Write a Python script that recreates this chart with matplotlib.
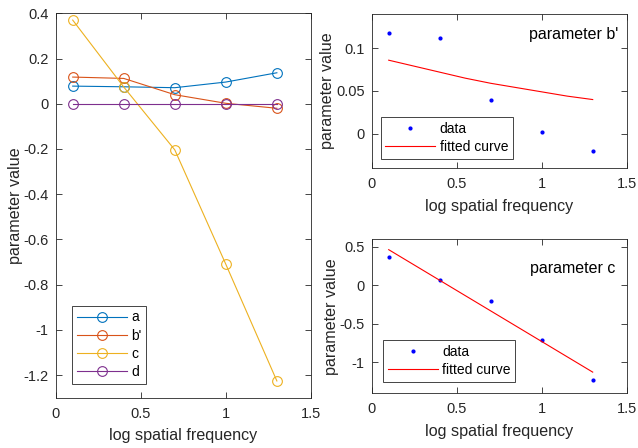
import matplotlib
matplotlib.use("Agg")
import matplotlib.pyplot as plt
from matplotlib.ticker import FuncFormatter

plt.rcParams['font.family'] = ['Liberation Sans', 'DejaVu Sans']
plt.rcParams['axes.unicode_minus'] = False

# data
freq = [0.1, 0.4, 0.7, 1.0, 1.3]
par_a = [0.078, 0.075, 0.071, 0.096, 0.137]
par_b = [0.118, 0.112, 0.040, 0.002, -0.020]
par_c = [0.370, 0.074, -0.204, -0.710, -1.226]
par_d = [0.0, 0.0, 0.0, 0.0, 0.0]

fit_b_x = [0.1, 0.25, 0.4, 0.55, 0.7, 0.85, 1.0, 1.15, 1.3]
fit_b_y = [0.086, 0.079, 0.072, 0.065, 0.059, 0.054, 0.049, 0.044, 0.040]
fit_c_x = [0.1, 1.3]
fit_c_y = [0.465, -1.125]

blue = '#0072BD'
orange = '#D95319'
yellow = '#EDB120'
purple = '#7E2F8E'
dark = '#262626'

fmt = FuncFormatter(lambda v, p: '%g' % round(v, 6))


def style(ax):
    ax.tick_params(direction='in', top=True, right=True, labelsize=10.5,
                   colors=dark, length=4, width=0.6, pad=5)
    ax.tick_params(axis='x', pad=6.5)
    for s in ax.spines.values():
        s.set_color(dark)
        s.set_linewidth(0.6)
    ax.xaxis.set_major_formatter(fmt)
    ax.yaxis.set_major_formatter(fmt)
    ax.set_xlim(0, 1.5)
    ax.set_xticks([0, 0.5, 1, 1.5])
    ax.set_xlabel('log spatial frequency', fontsize=11.6, color=dark, labelpad=5.5)
    ax.set_ylabel('parameter value', fontsize=11.6, color=dark, labelpad=0.5)


def add_legend(ax, anchor):
    leg = ax.legend(loc='lower left', bbox_to_anchor=anchor,
                    borderaxespad=0, fontsize=10, fancybox=False,
                    framealpha=1, handlelength=3.6, handletextpad=0.3,
                    labelspacing=0.3, borderpad=0.35, edgecolor=dark)
    leg.get_frame().set_linewidth(0.6)


fig = plt.figure(figsize=(6.38, 4.48), dpi=100)

# left: all parameters
ax1 = fig.add_axes([0.0873, 0.1123, 0.400, 0.858])
for vals, col, lab in [(par_a, blue, 'a'), (par_b, orange, "b'"),
                       (par_c, yellow, 'c'), (par_d, purple, 'd')]:
    ax1.plot(freq, vals, '-o', color=col, mfc='none', ms=7, lw=0.8,
             mew=0.8, label=lab)
ax1.set_ylim(-1.3, 0.4)
ax1.set_yticks([-1.2, -1, -0.8, -0.6, -0.4, -0.2, 0, 0.2, 0.4])
style(ax1)
add_legend(ax1, (0.064, 0.036))

# right top: parameter b'
ax2 = fig.add_axes([0.5826, 0.625, 0.3997, 0.3438])
ax2.plot(freq, par_b, '.', color='b', ms=4, label='data')
ax2.plot(fit_b_x, fit_b_y, '-', color='r', lw=0.8, label='fitted curve')
ax2.set_ylim(-0.04, 0.14)
ax2.set_yticks([0, 0.05, 0.1])
style(ax2)
ax2.text(0.965, 0.87, "parameter b'", transform=ax2.transAxes, ha='right',
         va='center', fontsize=11.5, color='k')
add_legend(ax2, (0.035, 0.058))

# right bottom: parameter c
ax3 = fig.add_axes([0.5826, 0.1221, 0.3997, 0.3438])
ax3.plot(freq, par_c, '.', color='b', ms=4, label='data')
ax3.plot(fit_c_x, fit_c_y, '-', color='r', lw=0.8, label='fitted curve')
ax3.set_ylim(-1.4, 0.6)
ax3.set_yticks([-1, -0.5, 0, 0.5])
style(ax3)
ax3.text(0.955, 0.81, 'parameter c', transform=ax3.transAxes, ha='right',
         va='center', fontsize=11.5, color='k')
add_legend(ax3, (0.044, 0.073))

fig.savefig('out.png', dpi=100)
